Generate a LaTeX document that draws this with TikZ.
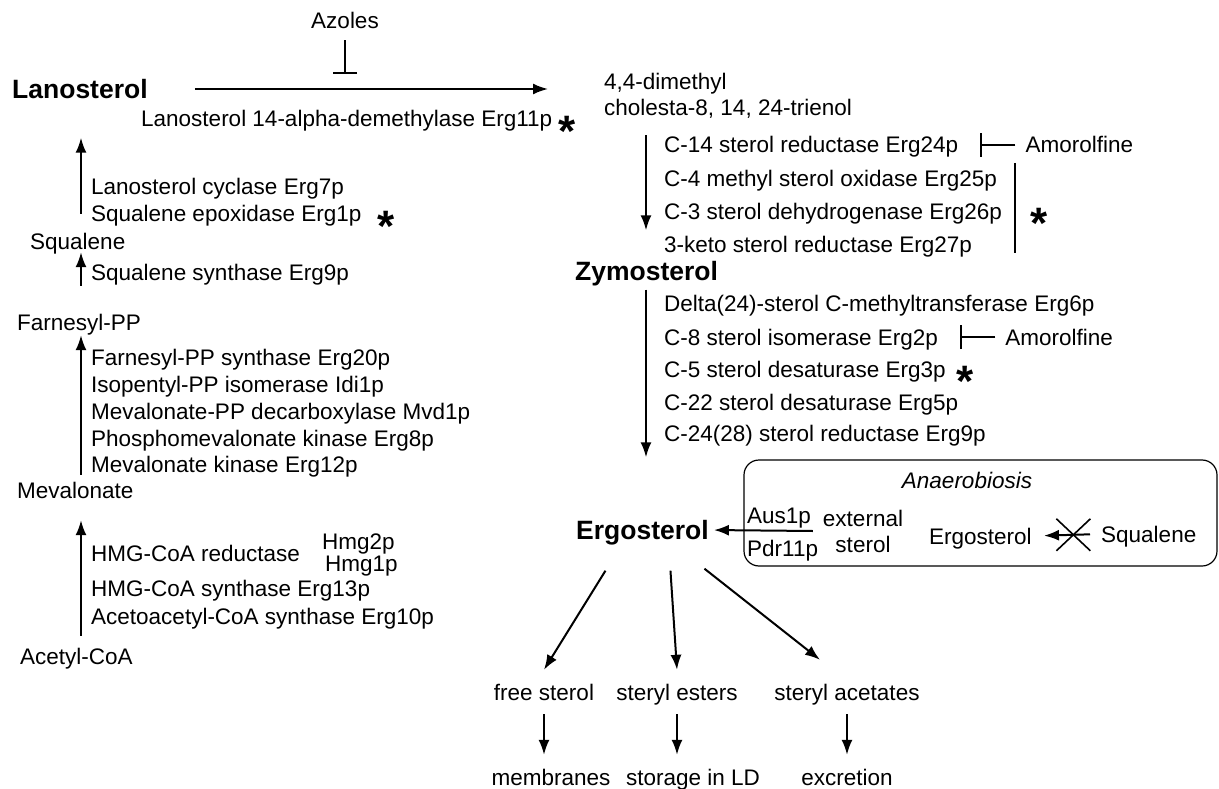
\documentclass[tikz,border=0pt]{standalone}
\usepackage{fontspec}
\setmainfont{Liberation Sans}
\usetikzlibrary{arrows.meta,calc}

\tikzset{
	lbl/.style={anchor=west, inner sep=0pt, text height=16pt, text depth=0pt, font=\fontsize{22.5}{26}\selectfont},
	key/.style={anchor=west, inner sep=0pt, text height=19pt, text depth=0pt, font=\fontsize{26.5}{30}\selectfont\bfseries},
	bot/.style={lbl, anchor=center, inner xsep=0pt, inner ysep=14pt},
	astn/.style={anchor=base, inner sep=0pt, font=\fontsize{44}{44}\selectfont\bfseries},
	arr/.style={line width=2pt, -{Latex[length=15pt,width=11pt]}},
	inh/.style={line width=1.8pt, -{Bar[width=24pt,line width=1.8pt]}},
}

\begin{document}
\begin{tikzpicture}[x=1pt,y=-1pt]
		\useasboundingbox ( 0, 0 ) rectangle ( 1219, 789 );
		\coordinate (lcol) at ( 81, 0 );
		\coordinate (rcol) at ( 646, 0 );

		% Lanosterol -> 4,4-dimethyl cholesta
		\node [lbl, anchor=center] (azoles) at ( 345, 21 ) {Azoles};
		\node [key] (lano) at ( 12, 89 ) {Lanosterol};
		\node [lbl] (dimeth1) at ( 604, 82 ) {4,4-dimethyl};
		\node [lbl] (dimeth2) at ( 604, 108 ) {cholesta-8, 14, 24-trienol};
		\node [lbl] (e11) at ( 141, 119 ) {Lanosterol 14-alpha-demethylase Erg11p};
		\node [astn] (ast1) at ($(e11.east)+(15,28)$) {*};
		\draw [arr, shorten <=47pt, shorten >=56pt] (lano.east) -- (lano.east -| dimeth1.west);
		\draw [inh, shorten <=11pt] (azoles.south) -- ++( 0, 45 );

		% mevalonate pathway
		\node [lbl] (acetyl) at ( 20, 656 ) {Acetyl-CoA};
		\node [lbl] (e10) at ( 91, 616 ) {Acetoacetyl-CoA synthase Erg10p};
		\node [lbl] (e13) at ( 91, 588 ) {HMG-CoA synthase Erg13p};
		\node [lbl] (hmgr) at ( 91, 553 ) {HMG-CoA reductase};
		\node [lbl] (hmg2) at ( 322, 541 ) {Hmg2p};
		\node [lbl] (hmg1) at ( 325, 563 ) {Hmg1p};
		\node [lbl] (meval) at ( 17, 490 ) {Mevalonate};
		\draw [arr, shorten <=12pt, shorten >=22pt] (acetyl.north -| lcol) -- (meval.south -| lcol);

		\node [lbl] (e12) at ( 91, 464 ) {Mevalonate kinase Erg12p};
		\node [lbl] (e8) at ( 91, 438 ) {Phosphomevalonate kinase Erg8p};
		\node [lbl] (mvd) at ( 91, 411 ) {Mevalonate-PP decarboxylase Mvd1p};
		\node [lbl] (idi) at ( 91, 384 ) {Isopentyl-PP isomerase Idi1p};
		\node [lbl] (e20) at ( 91, 357 ) {Farnesyl-PP synthase Erg20p};
		\node [lbl] (farn) at ( 17, 322 ) {Farnesyl-PP};
		\draw [arr, shorten <=7pt, shorten >=5pt] (meval.north -| lcol) -- (farn.south -| lcol);

		\node [lbl] (e9) at ( 91, 272 ) {Squalene synthase Erg9p};
		\node [lbl] (squal) at ( 30, 241 ) {Squalene};
		\draw [arr, shorten <=28pt, shorten >=3pt] (farn.north -| lcol) -- (squal.south -| lcol);

		\node [lbl] (e1) at ( 91, 214 ) {Squalene epoxidase Erg1p};
		\node [astn] (ast2) at ($(e1.east)+(24,27)$) {*};
		\node [lbl] (e7) at ( 91, 186 ) {Lanosterol cyclase Erg7p};
		\draw [arr, shorten <=19pt, shorten >=39pt] (squal.north -| lcol) -- (lano.south -| lcol);

		% to zymosterol
		\node [lbl] (e24) at ( 664, 145 ) {C-14 sterol reductase Erg24p};
		\node [lbl] (e25) at ( 664, 178 ) {C-4 methyl sterol oxidase Erg25p};
		\node [lbl] (e26) at ( 664, 211 ) {C-3 sterol dehydrogenase Erg26p};
		\node [lbl] (e27) at ( 664, 244 ) {3-keto sterol reductase Erg27p};
		\node [lbl, inner xsep=10pt] (amor1) at ($(e24.east)+(57,0)$) {Amorolfine};
		\draw [inh] (amor1.west) -- ++( -35, 0 );
		\coordinate (brk) at ($(e26.east)+(13,0)$);
		\draw [line width=1.8pt] ([yshift=7pt]e25.north -| brk) -- ([yshift=-1pt]e27.south -| brk);
		\node [astn] (ast3) at ($(brk)+(24,27)$) {*};
		\node [key] (zymo) at ( 575, 271 ) {Zymosterol};
		\draw [arr, shorten <=19pt, shorten >=31pt] (dimeth2.south -| rcol) -- (zymo.north -| rcol);

		% to ergosterol
		\node [lbl] (e6) at ( 664, 303 ) {Delta(24)-sterol C-methyltransferase Erg6p};
		\node [lbl] (e2) at ( 664, 337 ) {C-8 sterol isomerase Erg2p};
		\node [lbl] (e3) at ( 664, 369 ) {C-5 sterol desaturase Erg3p};
		\node [lbl] (e5) at ( 664, 402 ) {C-22 sterol desaturase Erg5p};
		\node [lbl] (e9b) at ( 664, 433 ) {C-24(28) sterol reductase Erg9p};
		\node [lbl, inner xsep=10pt] (amor2) at ($(e2.east)+(57,0)$) {Amorolfine};
		\draw [inh] (amor2.west) -- ++( -35, 0 );
		\node [astn] (ast4) at ($(e3.east)+(19,27)$) {*};
		\node [key] (ergo) at ( 576, 530 ) {Ergosterol};
		\draw [arr, shorten <=9pt, shorten >=63pt] (zymo.south -| rcol) -- (ergo.north -| rcol);

		% anaerobiosis
		\draw [line width=1.2pt, rounded corners=15pt] ( 744, 460 ) rectangle ( 1217, 566 );
		\node [lbl, anchor=center, font=\fontsize{22.5}{26}\selectfont\itshape] (anaer) at ( 967, 480 ) {Anaerobiosis};
		\node [lbl] (aus) at ( 747, 515 ) {Aus1p};
		\node [lbl] (pdr) at ( 747, 548 ) {Pdr11p};
		\node [anchor=center, inner xsep=10pt, inner ysep=0pt, align=center, font=\fontsize{22.5}{26}\selectfont] (ext) at ( 863, 531 ) {external\\sterol};
		\node [lbl] (ergoan) at ( 929, 536 ) {Ergosterol};
		\node [lbl] (squalan) at ( 1101, 534 ) {Squalene};
		\draw [arr, shorten >=5pt] (ext.west) -- (ergo.east);
		\draw [arr, shorten <=11pt, shorten >=12pt] (squalan.west) -- (ergoan.east);
		\coordinate (xmid) at ($(ergoan.east)!0.6!(squalan.west)$);
		\draw [line width=1.6pt] ([shift={(-17,-16)}]xmid) -- ([shift={(17,16)}]xmid);
		\draw [line width=1.6pt] ([shift={(-17,16)}]xmid) -- ([shift={(17,-16)}]xmid);

		% fate of ergosterol
		\node [bot] (free) at ( 544, 692 ) {free sterol};
		\node [bot] (esters) at ( 677, 692 ) {steryl esters};
		\node [bot] (acet) at ( 847, 692 ) {steryl acetates};
		\node [bot] (membr) at ( 551, 777 ) {membranes};
		\node [bot] (stor) at ( 693, 777 ) {storage in LD};
		\node [bot] (excr) at ( 847, 777 ) {excretion};
		\draw [arr] ($(ergo.south)+(-37,31)$) -- (free.north);
		\draw [arr] ($(ergo.south)+(28,31)$) -- (esters.north);
		\draw [arr] ($(ergo.south)+(62,29)$) -- ($(acet.north)+(-27,-10)$);
		\draw [arr] (free.south) -- (free.south |- membr.north);
		\draw [arr] (esters.south) -- (esters.south |- stor.north);
		\draw [arr] (acet.south) -- (acet.south |- excr.north);
\end{tikzpicture}
\end{document}
